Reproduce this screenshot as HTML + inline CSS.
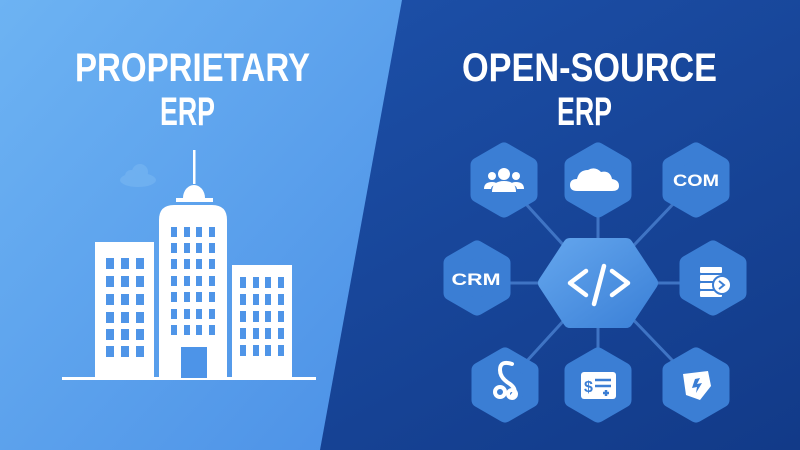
<!DOCTYPE html>
<html><head><meta charset="utf-8"><style>
html,body{margin:0;padding:0;width:800px;height:450px;overflow:hidden;background:#1a4598}
svg{display:block}
</style></head><body>
<svg width="800" height="450" viewBox="0 0 800 450" xmlns="http://www.w3.org/2000/svg">
<defs>
<linearGradient id="gl" x1="0" y1="0" x2="1" y2="1">
<stop offset="0" stop-color="#6db3f3"/><stop offset="1" stop-color="#4b90e6"/>
</linearGradient>
<linearGradient id="gr" x1="0" y1="0" x2="1" y2="1">
<stop offset="0" stop-color="#1f55b0"/><stop offset="1" stop-color="#123a88"/>
</linearGradient>
<linearGradient id="gc" x1="0" y1="0" x2="1" y2="1">
<stop offset="0" stop-color="#62a4ec"/><stop offset="1" stop-color="#3d82d8"/>
</linearGradient>
</defs>
<rect width="800" height="450" fill="url(#gr)"/>
<polygon points="0,0 402,0 320,450 0,450" fill="url(#gl)"/>

<g font-family="Liberation Sans, sans-serif" font-weight="bold" fill="#fff" font-size="40">
<text x="75" y="81" textLength="235" lengthAdjust="spacingAndGlyphs">PROPRIETARY</text>
<text x="160" y="125" textLength="55" lengthAdjust="spacingAndGlyphs">ERP</text>
<text x="462" y="81" textLength="255" lengthAdjust="spacingAndGlyphs">OPEN-SOURCE</text>
<text x="557" y="125" textLength="55" lengthAdjust="spacingAndGlyphs">ERP</text>
</g>

<g fill="#7dbaf2" opacity="0.5">
<ellipse cx="138" cy="180" rx="18" ry="7"/><circle cx="140" cy="172" r="8"/><circle cx="131" cy="176" r="6"/>
</g>

<g fill="#fff">
<rect x="62" y="377" width="254" height="3"/>
<rect x="95" y="242" width="59" height="136"/>
<path d="M159,378 V220 Q159,205 174,205 H212 Q227,205 227,220 V378 Z"/>
<rect x="232" y="265" width="60" height="113"/>
<rect x="193" y="150" width="2.5" height="34"/>
<path d="M183,198 A11,13 0 0 1 205,198 Z"/>
<rect x="176" y="198" width="37" height="4"/>
</g>
<g fill="#4d94e8">
<rect x="181" y="347" width="26" height="31"/>
</g>
<g fill="#4f95e8" id="winL">
</g>
<script>
(function(){
var ns="http://www.w3.org/2000/svg",g=document.getElementById("winL");
function w(x,y,wd,h){var r=document.createElementNS(ns,"rect");r.setAttribute("x",x);r.setAttribute("y",y);r.setAttribute("width",wd);r.setAttribute("height",h);g.appendChild(r);}
[106,121,136].forEach(function(x){[258,276,294,312,329,346].forEach(function(y){w(x,y,8,11);});});
[171,184,196,209].forEach(function(x){[227,243,259,276,292,309,325].forEach(function(y){w(x,y,6,10);});});
[240,253,265,278].forEach(function(x){[277,294,311,328,345].forEach(function(y){w(x,y,6,11);});});
})();
</script>

<g stroke="#3f74c4" stroke-width="3">
<line x1="598" y1="283" x2="504" y2="180"/>
<line x1="598" y1="283" x2="598" y2="180"/>
<line x1="598" y1="283" x2="696" y2="180"/>
<line x1="598" y1="283" x2="477" y2="283"/>
<line x1="598" y1="283" x2="713" y2="283"/>
<line x1="598" y1="283" x2="505" y2="385"/>
<line x1="598" y1="283" x2="598" y2="385"/>
<line x1="598" y1="283" x2="696" y2="385"/>
</g>

<g fill="#3b7ed4" stroke="#3b7ed4" stroke-width="15" stroke-linejoin="round">
<polygon id="h" points="0,-30 26,-15 26,15 0,30 -26,15 -26,-15" transform="translate(504,180)"/>
<use href="#h" transform="translate(94,0)"/>
<use href="#h" transform="translate(192,0)"/>
<use href="#h" transform="translate(-27,98)"/>
<use href="#h" transform="translate(209,98)"/>
<use href="#h" transform="translate(1,205)"/>
<use href="#h" transform="translate(94,205)"/>
<use href="#h" transform="translate(192,205)"/>
</g>
<polygon points="-53,0 -28,-38 28,-38 53,0 28,38 -28,38" transform="translate(598,283)" fill="url(#gc)" stroke="url(#gc)" stroke-width="14" stroke-linejoin="round"/>
<g stroke="#fff" stroke-width="4.5" fill="none" stroke-linecap="round" stroke-linejoin="round">
<polyline points="586,271 570,283 586,295"/>
<polyline points="612,271 628,283 612,295"/>
<line x1="604" y1="266" x2="594" y2="304"/>
</g>

<g fill="#fff">
<circle cx="504" cy="174" r="6"/><path d="M492,192 Q492,181 504,181 Q516,181 516,192 Z"/>
<circle cx="492" cy="176" r="4"/><path d="M484,189 Q484,182 492,182 Q496,182 497,184 Q491,186 491,189 Z"/>
<circle cx="516" cy="176" r="4"/><path d="M524,189 Q524,182 516,182 Q512,182 511,184 Q517,186 517,189 Z"/>
<path d="M577,191 Q570,191 570,185 Q570,179 577,179 Q579,170 588,170 Q595,166 601,172 Q610,170 612,179 Q619,180 619,186 Q619,191 612,191 Z"/>
</g>
<g font-family="Liberation Sans, sans-serif" font-weight="bold" fill="#fff" font-size="17">
<text x="696" y="186" text-anchor="middle" textLength="46" lengthAdjust="spacingAndGlyphs">COM</text>
<text x="476" y="285" text-anchor="middle" textLength="49" lengthAdjust="spacingAndGlyphs">CRM</text>
</g>
<g fill="#fff">
<rect x="700" y="267" width="22" height="6" rx="1"/>
<rect x="700" y="275" width="22" height="6" rx="1"/>
<rect x="700" y="283" width="22" height="6" rx="1"/>
<rect x="700" y="291" width="22" height="6" rx="1"/>
<circle cx="722" cy="285" r="9" stroke="#3b7ed4" stroke-width="2"/>
</g>
<polyline points="719,281 724,285 719,289" stroke="#3b7ed4" stroke-width="2" fill="none"/>
<g stroke="#fff" stroke-width="4" fill="none" stroke-linecap="round">
<path d="M512,364 Q500,360 500,370 Q500,378 510,384 Q518,390 512,396"/>
<circle cx="500" cy="392" r="5"/>
<circle cx="512" cy="394" r="4"/>
</g>
<rect x="581" y="372" width="35" height="27" rx="3" fill="#fff"/>
<g font-family="Liberation Sans, sans-serif" font-weight="bold" fill="#3b7ed4" font-size="16">
<text x="584" y="392">$</text>
</g>
<g stroke="#3b7ed4" stroke-width="2.5">
<line x1="595" y1="380" x2="611" y2="380"/><line x1="595" y1="386" x2="611" y2="386"/>
<line x1="603" y1="393" x2="609" y2="393"/><line x1="606" y1="390" x2="606" y2="396"/>
</g>
<path d="M683,374 L708,371 L711,386 L700,400 L686,395 Z" fill="#fff"/>
<path d="M695,379 L692,388 L697,387 L696,393 L702,383 L697,384 L700,378 Z" fill="#3b7ed4"/>
</svg>
</body></html>
